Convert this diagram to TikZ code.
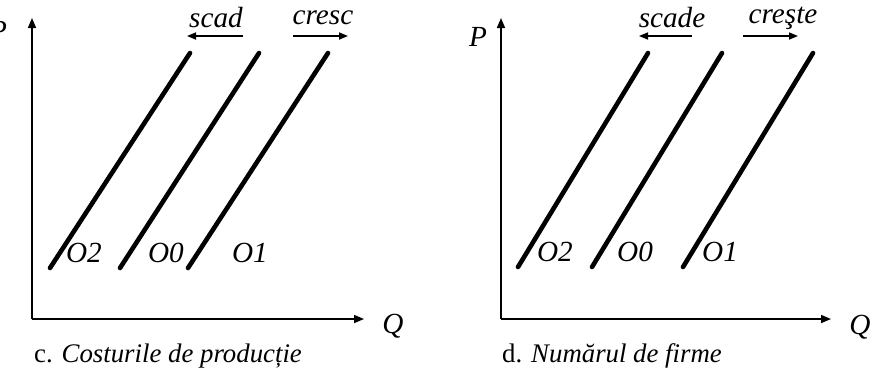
\documentclass[tikz,border=0pt]{standalone}
\usepackage{fontspec}
\setmainfont{Liberation Serif}
\usetikzlibrary{arrows.meta}
\tikzset{
  axis/.style={line width=0.8pt,-{Triangle[length=5pt,width=4pt]}},
  supply/.style={line width=2.3pt,line cap=round},
  shiftarr/.style={line width=0.8pt,-{Triangle[length=4.5pt,width=3.5pt]}},
  lbl/.style={font=\fontsize{14.6}{17}\selectfont\itshape,inner sep=1pt},
  panelcaption/.style={font=\fontsize{13.4}{16}\selectfont,inner sep=1pt}
}
\begin{document}
\begin{tikzpicture}[x=0.5pt,y=-0.5pt]
\useasboundingbox (0,0) rectangle (871,372);
% c. Costurile de productie
\coordinate (c0) at (32,319);
\coordinate (cy) at (32,18);
\coordinate (cx) at (364,319);
\draw[axis] (c0) -- (cy);
\draw[axis] (c0) -- (cx);
\node[lbl] (pc) at (-2,31) {P};
\node[lbl] (qc) at (393,326) {Q};
\foreach \bx/\tx in {50/190,120/259,188/328} \draw[supply] (\bx,268) -- (\tx,53);
\node[lbl] (o2c) at (84,253) {O2};
\node[lbl] (o0c) at (166,253) {O0};
\node[lbl] (o1c) at (250,253) {O1};
\coordinate (sca) at (243,36); \coordinate (scb) at (187,36);
\coordinate (cra) at (293,36); \coordinate (crb) at (348,36);
\draw[shiftarr] (sca) -- (scb);
\draw[shiftarr] (cra) -- (crb);
\node[lbl] (scad) at (216,18) {scad};
\node[lbl] (cresc) at (323,18) {cresc};
\node[panelcaption] (capc) at (168,356) {c. \textit{Costurile de producție}};
% d. Numarul de firme
\coordinate (d0) at (501,319);
\coordinate (dy) at (501,18);
\coordinate (dx) at (831,319);
\draw[axis] (d0) -- (dy);
\draw[axis] (d0) -- (dx);
\node[lbl] (pd) at (478,37) {P};
\node[lbl] (qd) at (860,327) {Q};
\foreach \bx/\tx in {518/648,592/722,683/813} \draw[supply] (\bx,267) -- (\tx,53);
\node[lbl] (o2d) at (555,252) {O2};
\node[lbl] (o0d) at (635,252) {O0};
\node[lbl] (o1d) at (720,252) {O1};
\coordinate (sda) at (692,36); \coordinate (sdb) at (639,36);
\coordinate (cda) at (743,36); \coordinate (cdb) at (798,36);
\draw[shiftarr] (sda) -- (sdb);
\draw[shiftarr] (cda) -- (cdb);
\node[lbl] (scade) at (672,18) {scade};
\node[lbl] (creste) at (783,18) {creşte};
\node[panelcaption] (capd) at (612,356) {d. \textit{Numărul de firme}};
\end{tikzpicture}
\end{document}
